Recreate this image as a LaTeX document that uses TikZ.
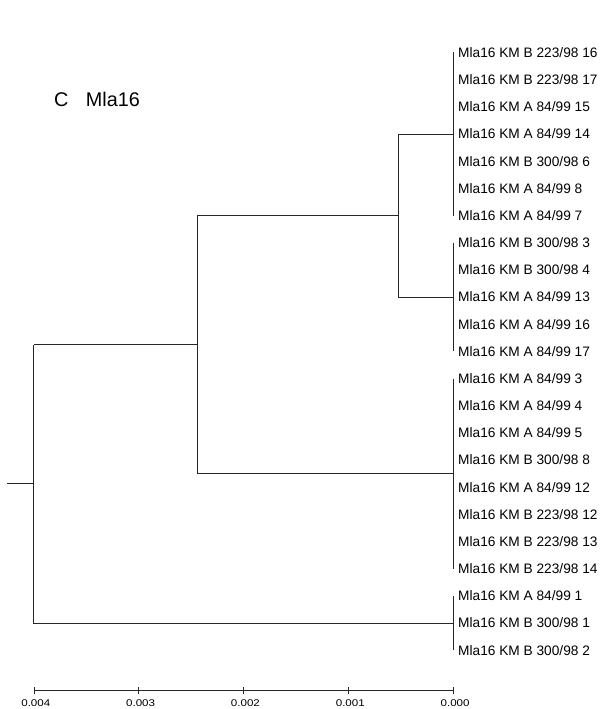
\documentclass[tikz,border=0pt]{standalone}
\usepackage{fontspec}
\setmainfont{Liberation Sans}
\newfontfamily\axfont[FakeStretch=1.18]{Liberation Sans}
\begin{document}
\begin{tikzpicture}[x=1pt,y=-1pt,
  branch/.style={draw=black!85,line width=1pt},
  leaflabel/.style={anchor=west,inner sep=0pt,font=\fontsize{13.7}{16}\selectfont,text height=9.8pt,text depth=0pt},
  ticklabel/.style={anchor=base,inner sep=0pt,font=\axfont\fontsize{9.8}{12}\selectfont},
  titlelabel/.style={anchor=base west,inner sep=0pt,font=\fontsize{19.8}{22}\selectfont}]
\useasboundingbox (0,0) rectangle (601,709);
% leaves
\foreach \lab [count=\i from 0] in {
  Mla16 KM B 223/98 16, Mla16 KM B 223/98 17, Mla16 KM A 84/99 15, Mla16 KM A 84/99 14,
  Mla16 KM B 300/98 6, Mla16 KM A 84/99 8, Mla16 KM A 84/99 7,
  Mla16 KM B 300/98 3, Mla16 KM B 300/98 4, Mla16 KM A 84/99 13, Mla16 KM A 84/99 16,
  Mla16 KM A 84/99 17,
  Mla16 KM A 84/99 3, Mla16 KM A 84/99 4, Mla16 KM A 84/99 5, Mla16 KM B 300/98 8,
  Mla16 KM A 84/99 12, Mla16 KM B 223/98 12, Mla16 KM B 223/98 13, Mla16 KM B 223/98 14,
  Mla16 KM A 84/99 1, Mla16 KM B 300/98 1, Mla16 KM B 300/98 2}{
  \coordinate (p\i) at (453,52.5+27.17*\i);
  \node[leaflabel] (l\i) at (458,52.5+27.17*\i) {\lab};
}
% internal nodes
\coordinate (c1) at (453,134.0);   % clade 1 (leaves 0-6)
\coordinate (c2) at (453,297.0);   % clade 2 (leaves 7-11)
\coordinate (c3) at (453,473.6);   % clade 3 (leaves 12-19)
\coordinate (c4) at (453,623.1);   % clade 4 (leaves 20-22)
\coordinate (n12) at (398,215.5);
\coordinate (n123) at (197,344.6);
\coordinate (root) at (33.5,483.9);
\coordinate (stub) at (7,483.9);
% clades at the leaves
\draw[branch] (p0) -- (p6);
\draw[branch] (p7) -- (p11);
\draw[branch] (p12) -- (p19);
\draw[branch] (p20) -- (p22);
% inner branches
\draw[branch] (c1) -- (c1 -| n12) -- (c2 -| n12) -- (c2);
\draw[branch] (n12) -- (n12 -| n123);
\draw[branch] (n12 -| n123) -- (c3 -| n123) -- (c3);
\draw[branch] (n123) -- (n123 -| root);
\draw[branch] (n123 -| root) -- (c4 -| root) -- (c4);
\draw[branch] (stub) -- (root);
% title
\node[titlelabel] (title) at (54,106.7) {C\hspace{17.5pt}Mla16};
% axis
\coordinate (a0) at (34,690.5);
\coordinate (a4) at (453.3,690.5);
\draw[branch] (a0) -- (a4);
\foreach \v [count=\k from 0] in {0.004,0.003,0.002,0.001,0.000}{
  \coordinate (t\k) at (34+104.83*\k,690.5);
  \draw[branch] ([yshift=-3.4pt]t\k) -- ([yshift=3.4pt]t\k);
  \node[ticklabel] (tl\k) at (35.8+104.83*\k,706) {\v};
}
\end{tikzpicture}
\end{document}
